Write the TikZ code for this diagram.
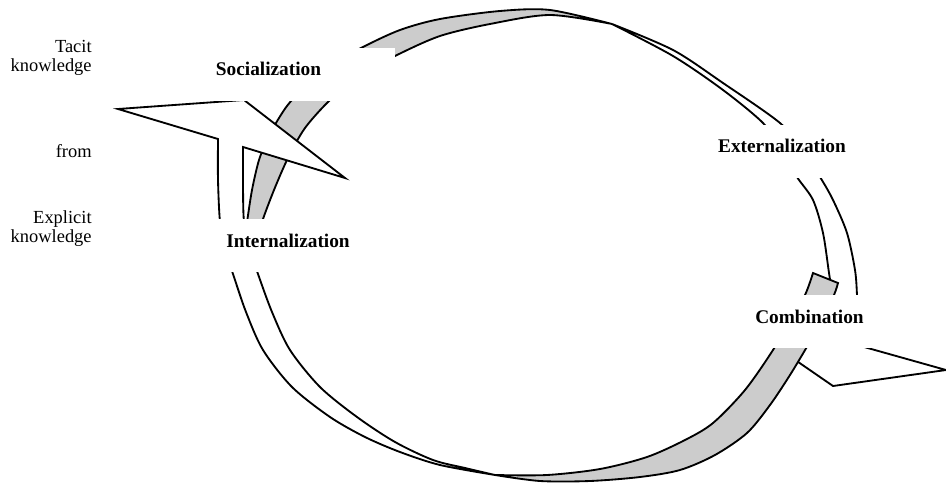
\documentclass[tikz,border=0pt]{standalone}
\usepackage{fontspec}
\setmainfont{Liberation Serif}
\definecolor{backface}{gray}{0.8}

\begin{document}
\begin{tikzpicture}[
  x=0.02cm, y=-0.02cm,
  band/.style={line width=1.05pt, draw=black, line join=miter},
  phase/.style={fill=white, inner sep=0pt, minimum width=144pt, text height=16pt, text depth=14pt, font=\fontsize{11}{13}\selectfont\bfseries},
  side/.style={inner sep=0pt, align=right, font=\fontsize{10.5}{10.8}\selectfont}
]
  \useasboundingbox (0,0) rectangle (946,483);

  % Flecha de arriba: cara gris (izquierda)
  \filldraw[band, fill=backface]
    plot[smooth] coordinates {(244,240) (247,222) (252,190) (259,160) (268,138) (279,118) (292,100) (325,68) (363,47) (400,30) (440,19) (500,11) (550,10) (612,24)}
    -- plot[smooth] coordinates {(612,24) (550,15) (490,24) (440,36) (397,55) (360,75) (330,100) (305,128) (288,158) (274,190) (262,222) (258,240)}
    -- cycle;

  % Flecha de arriba: cara blanca y punta (derecha)
  \filldraw[band, fill=white]
    plot[smooth] coordinates {(612,24) (673,50) (723,83) (780,123) (802,150) (820,177) (833,200) (847,233) (855,270) (857,295) (858,320) (857,345)}
    -- (946,370) -- (833,386) -- (714,304) -- (835,339)
    -- plot[smooth] coordinates {(835,339) (833,300) (829,273) (823,233) (813,200) (797,177) (782,150) (763,123) (723,90) (673,56) (612,24)}
    -- cycle;

  % Flecha de abajo: cara gris (derecha)
  \filldraw[band, fill=backface]
    plot[smooth] coordinates {(495,475) (547,475) (600,469) (647,457) (685,440) (713,423) (745,390) (773,350) (790,320) (805,295) (813,273)}
    -- (838,283)
    -- plot[smooth] coordinates {(838,283) (834,295) (822,320) (808,345) (790,375) (770,405) (747,433) (715,455) (680,470) (640,477) (590,481) (540,481) (495,475)}
    -- cycle;

  % Flecha de abajo: cara blanca y punta (izquierda)
  \filldraw[band, fill=white]
    plot[smooth] coordinates {(495,475) (440,465) (400,452) (365,437) (330,417) (292,387) (263,350) (246,312) (233,274) (225,250) (220,222) (218,180) (218,139)}
    -- (118,109) -- (244,100) -- (345,178) -- (243,147)
    -- plot[smooth] coordinates {(243,147) (243,185) (244,222) (250,250) (258,274) (272,312) (290,350) (320,387) (357,417) (395,442) (433,460) (465,468) (495,475)}
    -- cycle;

  % Etapas
  \node[phase, anchor=base] (soc) at (268.5,76) {Socialization};
  \node[phase, anchor=base] (ext) at (782,153) {Externalization};
  \node[phase, anchor=base] (comb) at (809.5,323) {Combination};
  \node[phase, anchor=base] (int) at (288,247) {Internalization};

  % Texto del lado izquierdo
  \node[side, anchor=north east] (tacit) at (92,40) {Tacit\\knowledge};
  \node[side, anchor=base east] (from) at (92,157) {from};
  \node[side, anchor=north east] (explicit) at (92,210) {Explicit\\knowledge};
\end{tikzpicture}
\end{document}
